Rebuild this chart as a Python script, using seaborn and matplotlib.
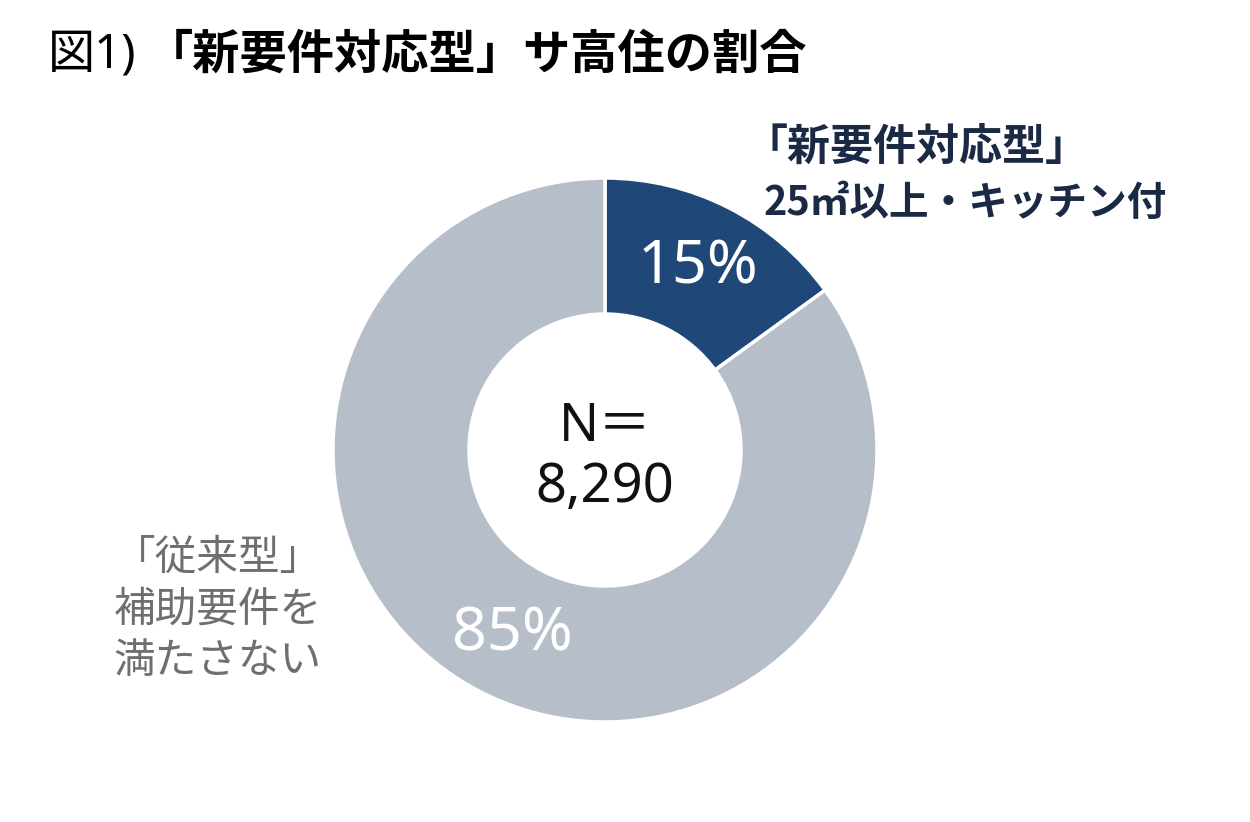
import matplotlib
matplotlib.use("Agg")
import matplotlib.pyplot as plt
import seaborn as sns

# ---- data ----
categories = ["「新要件対応型」", "25㎡以上・キッチン付", "「従来型」\n補助要件を\n満たさない"]
shares = [15, 85]
total_n = "8,290"
title_prefix = "図1)"
title_main = "「新要件対応型」サ高住の割合"
colors = ["#1F4879", "#B6BFC9"]
label_colors = ["#1B2A44", "#6F6F6F"]

sns.set_theme(style="white")
CJK = ['Noto Sans CJK JP', 'DejaVu Sans']
LAT = ['Noto Sans', 'Noto Sans CJK JP', 'DejaVu Sans']
plt.rcParams['font.family'] = CJK

W, H = 1250, 822
fig = plt.figure(figsize=(W / 100, H / 100), dpi=100)
ax = fig.add_axes([0, 0, 1, 1])

cx, cy = 605, H - 450
R = 272
wedges, texts, autotexts = ax.pie(
    shares, colors=colors, startangle=90, counterclock=False,
    radius=R, center=(cx, cy),
    autopct=lambda p: f"{p:.0f}%", pctdistance=0.75,
    wedgeprops=dict(width=R * 0.5, edgecolor="white", linewidth=2.5),
    textprops=dict(color="white", fontsize=44, family=LAT),
)
autotexts[1].set_y(autotexts[1].get_position()[1] - 3)
ax.set_xlim(0, W)
ax.set_ylim(0, H)
ax.set_aspect("equal")
ax.axis("off")

# center text
ax.text(cx, cy + 23, "N＝", ha="center", va="center",
        fontsize=38, color="#111111", family=LAT)
ax.text(cx, cy - 37, total_n, ha="center", va="center",
        fontsize=39, color="#111111", family=LAT)

# category labels
ax.text(744, H - 147, categories[0], ha="left", va="center", fontsize=31,
        color=label_colors[0], fontweight="bold", family=CJK)
ax.text(764, H - 203, categories[1], ha="left", va="center", fontsize=28.5,
        color=label_colors[0], fontweight="bold", family=CJK)
ax.text(218, H - 610, categories[2], ha="center", va="center", fontsize=30,
        color=label_colors[1], linespacing=1.32, family=CJK)

# title (prefix normal, main bold)
ax.text(48, H - 55, title_prefix, ha="left", va="center", fontsize=34,
        color="black", family=LAT)
ax.text(146, H - 55, title_main, ha="left", va="center", fontsize=34,
        color="black", fontweight="bold", family=CJK)

fig.savefig("out.png", dpi=100, facecolor="white")
